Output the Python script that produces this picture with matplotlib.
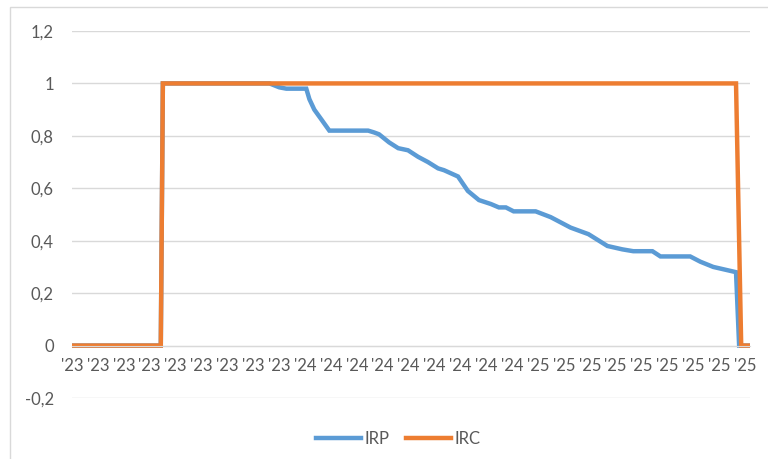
import matplotlib.pyplot as plt
from matplotlib.patches import Rectangle

# x positions in tick-label units (27 labels, 0..26)
irp_x = [0.08, 3.43, 3.51, 7.63, 8.01, 8.28, 9.05, 9.17, 9.36, 9.63, 9.94,
         11.44, 11.67, 11.86, 12.25, 12.60, 12.98, 13.37, 13.75, 14.14, 14.37,
         14.91, 15.29, 15.72, 16.18, 16.49, 16.76, 17.06, 17.91, 18.49, 19.26,
         19.95, 20.68, 21.26, 21.68, 22.42, 22.73, 23.88, 24.27, 24.77, 25.65,
         25.77, 26.12]
irp = [0, 0, 1, 1, 0.985, 0.98, 0.98, 0.94, 0.90, 0.863, 0.82,
       0.82, 0.813, 0.806, 0.775, 0.753, 0.745, 0.72, 0.70, 0.676, 0.669,
       0.645, 0.59, 0.555, 0.54, 0.527, 0.527, 0.512, 0.512, 0.49, 0.45,
       0.425, 0.38, 0.367, 0.36, 0.36, 0.34, 0.34, 0.32, 0.30, 0.28,
       0, 0]

irc_x = [0.08, 3.43, 3.51, 25.65, 25.85, 26.12]
irc = [0, 0, 1, 1, 0, 0]

tick_labels = ["'23"] * 9 + ["'24"] * 9 + ["'25"] * 9
y_ticks = [-0.2, 0, 0.2, 0.4, 0.6, 0.8, 1, 1.2]

plt.rcParams['font.family'] = ['Lato', 'DejaVu Sans']
text_col = '#595959'
grid_col = '#d9d9d9'

fig = plt.figure(figsize=(7.68, 4.59), dpi=100)
ax = fig.add_axes([72 / 768, 1 - 398 / 459, (750 - 72) / 768, (398 - 31) / 459])

ax.plot(irp_x, irp, color='#5b9bd5', lw=3.2, label='IRP', solid_joinstyle='miter')
ax.plot(irc_x, irc, color='#ed7d31', lw=3.2, label='IRC', solid_joinstyle='miter')

ax.set_xlim(0.08, 26.19)
ax.set_ylim(-0.2, 1.2)
ax.set_yticks(y_ticks)
ax.set_yticklabels([('%g' % v).replace('.', ',') for v in y_ticks])
ax.set_xticks(range(len(tick_labels)))
ax.set_xticklabels(tick_labels)
ax.grid(axis='y', color=grid_col, lw=1)
ax.set_axisbelow(True)

for s in ['top', 'right', 'left']:
    ax.spines[s].set_visible(False)
ax.spines['bottom'].set_position(('data', 0))
ax.spines['bottom'].set_color(grid_col)
ax.tick_params(axis='both', length=0, colors=text_col, labelsize=12)
ax.tick_params(axis='y', pad=13)
ax.tick_params(axis='x', pad=9)

leg = fig.legend(loc='center', bbox_to_anchor=(398 / 768, 1 - 439 / 459), ncol=2,
                 frameon=False, fontsize=12, handlelength=2.7, handletextpad=0.2,
                 columnspacing=1.0)
for t in leg.get_texts():
    t.set_color(text_col)

fig.patches.append(Rectangle((10 / 768, -0.1), 1.2, 1 - 7 / 459 + 0.1,
                             transform=fig.transFigure, fill=False,
                             edgecolor=grid_col, lw=1))

fig.savefig('out.png', dpi=100)
